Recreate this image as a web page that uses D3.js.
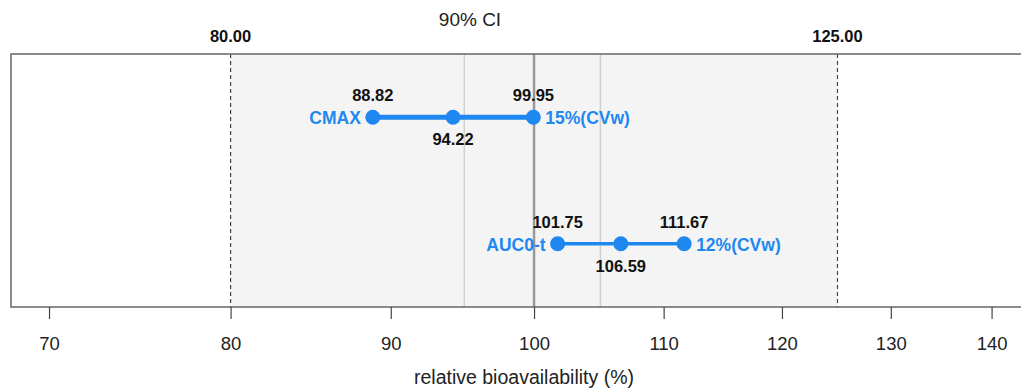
<!DOCTYPE html>
<html><head><meta charset="utf-8">
<script src="https://cdn.jsdelivr.net/npm/d3@7"></script>
<style>body{margin:0;background:#fff;overflow:hidden}svg{display:block;font-family:Arial,"Liberation Sans",sans-serif}</style>
</head><body><svg id="c" width="1021" height="389"></svg>
<script>
const params = ["CMAX", "AUC0-t"];
const lower = [88.82, 101.75];
const point = [94.22, 106.59];
const upper = [99.95, 111.67];
const cvw = ["15%(CVw)", "12%(CVw)"];
const lineWidths = [5, 3.5];
const xTicks = [70, 80, 90, 100, 110, 120, 130, 140];
const limits = [80, 125];
const refLines = [95, 105];

(function () {
const svg = d3.select("#c");
const blue = "#1E88F0";
const x = d3.scaleLog().domain([68.07, 146.9]).range([11, 1057]);
const y = d3.scalePoint().domain(params).range([54, 307]).padding(0.5);
const yTop = 54, yBot = 307;

svg.append("rect").attr("x", x(limits[0])).attr("y", yTop)
  .attr("width", x(limits[1]) - x(limits[0])).attr("height", yBot - yTop)
  .attr("fill", "#f4f4f4");

svg.selectAll(".ref").data(refLines).join("line")
  .attr("x1", d => x(d)).attr("x2", d => x(d)).attr("y1", yTop).attr("y2", yBot)
  .attr("stroke", "#cfcfcf").attr("stroke-width", 1.5);
svg.append("line").attr("x1", x(100)).attr("x2", x(100)).attr("y1", yTop).attr("y2", yBot)
  .attr("stroke", "#999").attr("stroke-width", 2.5);

svg.selectAll(".lim").data(limits).join("line")
  .attr("x1", d => x(d)).attr("x2", d => x(d)).attr("y1", yTop).attr("y2", yBot)
  .attr("stroke", "#444").attr("stroke-width", 1.2).attr("stroke-dasharray", "4,3");

svg.append("rect").attr("x", 11).attr("y", yTop).attr("width", 1057 - 11).attr("height", yBot - yTop)
  .attr("fill", "none").attr("stroke", "#666").attr("stroke-width", 1.5);

const ax = svg.append("g").attr("transform", `translate(0,${yBot})`)
  .call(d3.axisBottom(x).tickValues(xTicks).tickFormat(d3.format("d")).tickSize(12).tickPadding(18));
ax.select(".domain").remove();
ax.selectAll(".tick line").attr("stroke", "#444").attr("stroke-width", 1.2);
ax.selectAll(".tick text").attr("fill", "#222").style("font-size", "18.5px");

svg.selectAll(".limlab").data(limits).join("text")
  .attr("x", d => x(d)).attr("y", 42).attr("text-anchor", "middle")
  .style("font-size", "16.5px").style("font-weight", "bold").attr("fill", "#111")
  .text(d => d3.format(".2f")(d));

svg.append("text").attr("x", 470).attr("y", 26).attr("text-anchor", "middle")
  .style("font-size", "19px").attr("fill", "#222").text("90% CI");
svg.append("text").attr("x", 524).attr("y", 384).attr("text-anchor", "middle")
  .style("font-size", "19.5px").attr("fill", "#222").text("relative bioavailability (%)");

params.forEach((p, i) => {
  const yy = y(p);
  const g = svg.append("g");
  g.append("line").attr("x1", x(lower[i])).attr("x2", x(upper[i])).attr("y1", yy).attr("y2", yy)
    .attr("stroke", blue).attr("stroke-width", lineWidths[i]);
  g.selectAll("circle").data([lower[i], point[i], upper[i]]).join("circle")
    .attr("cx", d => x(d)).attr("cy", yy).attr("r", 7.5).attr("fill", blue);
  g.append("text").attr("x", x(lower[i]) - 12).attr("y", yy + 7).attr("text-anchor", "end")
    .style("font-size", "17.5px").style("font-weight", "bold").attr("fill", blue).text(p);
  g.append("text").attr("x", x(upper[i]) + 12).attr("y", yy + 7).attr("text-anchor", "start")
    .style("font-size", "17.5px").style("font-weight", "bold").attr("fill", blue).text(cvw[i]);
  [[lower[i], -16], [upper[i], -16], [point[i], 28]].forEach(([v, dy]) => {
    g.append("text").attr("x", x(v)).attr("y", yy + dy).attr("text-anchor", "middle")
      .style("font-size", "16.5px").style("font-weight", "bold").attr("fill", "#111")
      .text(d3.format(".2f")(v));
  });
});
})();
</script></body></html>
